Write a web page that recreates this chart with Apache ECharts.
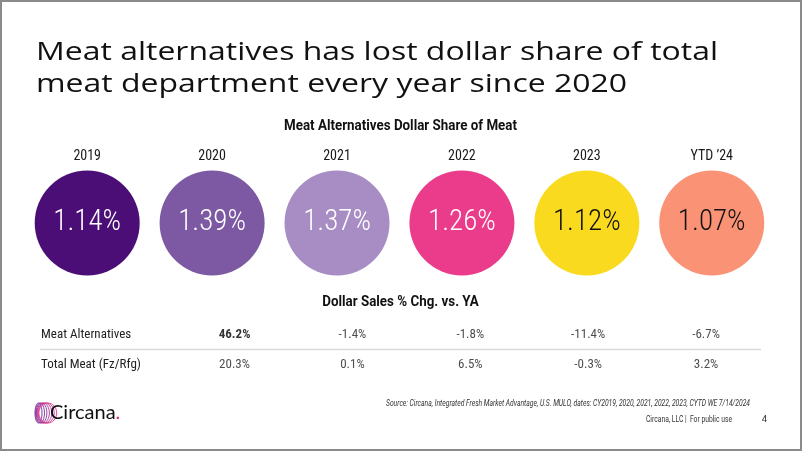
<!DOCTYPE html>
<html><head><meta charset="utf-8">
<script src="https://cdn.jsdelivr.net/npm/echarts@6/dist/echarts.min.js"></script>
<style>html,body{margin:0;padding:0;background:#fff}#c{width:802px;height:451px}</style>
</head><body><div id="c"></div>
<script>
// ---- data ----
const years = ['2019', '2020', '2021', '2022', '2023', "YTD \u201924"];
const shareValues = [1.14, 1.39, 1.37, 1.26, 1.12, 1.07];
const changeColumns = ['2020', '2021', '2022', '2023', "YTD \u201924"];
const rowLabels = ['Meat Alternatives', 'Total Meat (Fz/Rfg)'];
const meatAltChange = [46.2, -1.4, -1.8, -11.4, -6.7];
const totalMeatChange = [20.3, 0.1, 6.5, -0.3, 3.2];

// ---- styles ----
const circleColors = ['#4B0E77', '#7C59A2', '#A88DC5', '#EB3B8B', '#F9DA1E', '#FA9276'];
const circleTextColors = ['#ffffff', '#ffffff', '#ffffff', '#ffffff', '#111111', '#111111'];
const COND = "'Roboto Condensed','Liberation Sans Narrow',Roboto,sans-serif";
const boldCells = [[0, 0]];

const mctx = document.createElement('canvas').getContext('2d');
function fit(text, font, target) { mctx.font = font; return target / mctx.measureText(text).width; }

const titleFont = "400 26px 'Open Sans'";
const title1 = 'Meat alternatives has lost dollar share of total';
const title2 = 'meat department every year since 2020';
const tScale = fit(title1, titleFont, 682);

const subFont = "bold 14px Roboto";
const sub1 = 'Meat Alternatives Dollar Share of Meat';
const sub2 = 'Dollar Sales % Chg. vs. YA';
const sScale = fit(sub1, subFont, 233);

const srcFont = "italic 9.5px Roboto";
const srcText = 'Source: Circana, Integrated Fresh Market Advantage, U.S. MULO, dates: CY2019, 2020, 2021, 2022, 2023, CYTD WE 7/14/2024';
const srcScale = fit(srcText, srcFont, 364);

const chart = echarts.init(document.getElementById('c'), null, { renderer: 'canvas' });

const tableData = [];
[meatAltChange, totalMeatChange].forEach((row, r) => {
  row.forEach((v, i) => {
    const bold = boldCells.some(b => b[0] === r && b[1] === i);
    tableData.push({ value: [changeColumns[i], rowLabels[r], v], label: { fontWeight: bold ? 'bold' : 'normal', color: bold ? '#000' : '#222' } });
  });
});

// logo rings
const logoRings = [];
for (let i = 0; i < 7; i++) {
  const t = i / 6;
  const c1 = [0x6a, 0x2a, 0x9c], c2 = [0xe2, 0x3c, 0x8e];
  const col = 'rgb(' + c1.map((c, k) => Math.round(c + (c2[k] - c) * t)).join(',') + ')';
  logoRings.push({
    type: 'ellipse', shape: { cx: 38.5 + i * 1.55, cy: 413, rx: 3.5 + i * 0.9, ry: 10 },
    style: { fill: 'none', stroke: col, lineWidth: 0.9 }, silent: true
  });
}

const option = {
  animation: false,
  backgroundColor: '#ffffff',
  grid: [
    { left: 24.75, right: 27.8, top: 170, bottom: 175 },
    { left: 175.6, right: 37, top: 320, bottom: 71 }
  ],
  xAxis: [
    { type: 'category', gridIndex: 0, data: years, position: 'top',
      axisLine: { show: false }, axisTick: { show: false }, splitLine: { show: false },
      axisLabel: { margin: 7, fontSize: 14, color: '#1a1a1a', fontFamily: COND } },
    { type: 'category', gridIndex: 1, data: changeColumns, show: false }
  ],
  yAxis: [
    { type: 'category', gridIndex: 0, data: ['share'], show: false },
    { type: 'category', gridIndex: 1, data: rowLabels, inverse: true,
      axisLine: { show: false }, axisTick: { show: false }, splitLine: { show: false },
      axisLabel: { align: 'left', margin: 134.6, fontSize: 13, color: '#222', fontFamily: COND } }
  ],
  series: [
    { type: 'scatter', xAxisIndex: 0, yAxisIndex: 0, symbol: 'circle', symbolSize: 105, silent: true,
      data: years.map((y, i) => ({ value: [y, 'share', shareValues[i]],
        itemStyle: { color: circleColors[i], opacity: 1 },
        label: { color: circleTextColors[i] } })),
      label: { show: true, position: 'inside', fontSize: 29, fontWeight: 300, fontFamily: COND,
        formatter: p => p.value[2].toFixed(2) + '%' } },
    { type: 'scatter', xAxisIndex: 1, yAxisIndex: 1, symbolSize: 1, silent: true,
      itemStyle: { color: 'rgba(0,0,0,0)' },
      data: tableData,
      label: { show: true, position: 'inside', fontSize: 13, fontFamily: COND,
        formatter: p => p.value[2].toFixed(1) + '%' } }
  ],
  graphic: [
    { type: 'rect', shape: { x: 1, y: 1, width: 800, height: 449 }, style: { fill: 'none', stroke: '#8a8a8a', lineWidth: 2 }, silent: true },
    { type: 'text', x: 36, y: 52.5, scaleX: tScale, style: { text: title1, font: titleFont, fill: '#111', verticalAlign: 'middle' } },
    { type: 'text', x: 36, y: 84.5, scaleX: tScale, style: { text: title2, font: titleFont, fill: '#111', verticalAlign: 'middle' } },
    { type: 'text', x: 400.5, y: 126, scaleX: sScale, style: { text: sub1, font: subFont, fill: '#111', align: 'center', verticalAlign: 'middle' } },
    { type: 'text', x: 400.5, y: 302, scaleX: sScale, style: { text: sub2, font: subFont, fill: '#111', align: 'center', verticalAlign: 'middle' } },
    { type: 'line', shape: { x1: 40, y1: 349.5, x2: 761, y2: 349.5 }, style: { stroke: '#d9d9d9', lineWidth: 1.5 }, silent: true },
    { type: 'text', x: 750, y: 404, scaleX: srcScale, style: { text: srcText, font: srcFont, fill: '#333', align: 'right', verticalAlign: 'middle' } },
    { type: 'text', x: 732, y: 420, scaleX: srcScale, style: { text: 'Circana, LLC |  For public use', font: '9.5px Roboto', fill: '#333', align: 'right', verticalAlign: 'middle' } },
    { type: 'text', x: 767, y: 420, style: { text: '4', font: '9.5px Roboto', fill: '#333', align: 'right', verticalAlign: 'middle' } },
    { type: 'group', children: logoRings },
    { type: 'text', x: 50, y: 413, style: { text: '{a|Circana}{b|.}', verticalAlign: 'middle',
        rich: { a: { fontSize: 20, fontFamily: 'Lato', fill: '#111', color: '#111' }, b: { fontSize: 20, fontFamily: 'Lato', color: '#d6287f', fill: '#d6287f' } } } }
  ]
};
chart.setOption(option);
</script>
</body></html>
